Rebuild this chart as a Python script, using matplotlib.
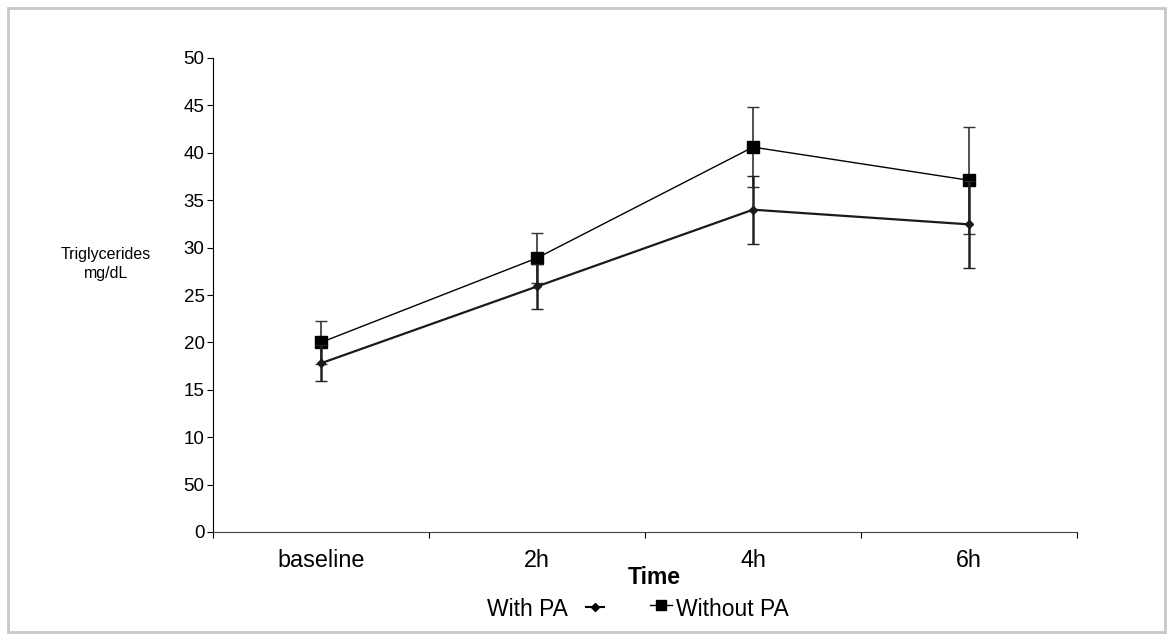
import numpy as np
import matplotlib

matplotlib.use('Agg')
import matplotlib.pyplot as plt
from matplotlib.lines import Line2D
from matplotlib.patches import Rectangle

plt.rcParams['font.family'] = ['Liberation Sans', 'DejaVu Sans']

# ================= data =================
categories = ['baseline', '2h', '4h', '6h']
with_pa = [17.8, 25.9, 34.0, 32.45]
with_pa_err = [1.9, 2.4, 3.6, 4.6]
without_pa = [20.0, 28.9, 40.6, 37.1]
without_pa_err = [2.3, 2.65, 4.2, 5.65]
y_ticks = [0, 5, 10, 15, 20, 25, 30, 35, 40, 45, 50]
y_tick_labels = ['0', '50', '10', '15', '20', '25', '30', '35', '40', '45', '50']
# =========================================

fig = plt.figure(figsize=(11.73, 6.4), dpi=100)
ax = fig.add_axes([213 / 1173, 1 - 532 / 640, 864 / 1173, 474 / 640])

x = np.arange(len(categories))

ax.errorbar(x, without_pa, yerr=without_pa_err, color='black', lw=1.0,
            marker='s', markersize=8, capsize=4, elinewidth=1.2, capthick=1.0,
            ecolor='#333333', label='Without PA', zorder=3)
ax.errorbar(x, with_pa, yerr=with_pa_err, color='#1a1a1a', lw=1.6,
            marker='D', markersize=4.5, capsize=4, elinewidth=1.8, capthick=1.0,
            ecolor='#222222', label='With PA', zorder=4)

ax.set_xlim(-0.5, len(categories) - 0.5)
ax.set_ylim(0, 50)
ax.set_yticks(y_ticks)
ax.set_yticklabels(y_tick_labels, fontsize=13.5)

# boundary ticks on the category axis, labels centred in between
ax.set_xticks(np.arange(len(categories) + 1) - 0.5)
ax.set_xticklabels([])
ax.set_xticks(x, minor=True)
ax.set_xticklabels(categories, minor=True, fontsize=16.8)
ax.tick_params(axis='x', which='minor', length=0, pad=12)
ax.tick_params(axis='x', which='major', length=4, direction='out')
ax.tick_params(axis='y', length=4, direction='out', pad=2)

for side in ['top', 'right']:
    ax.spines[side].set_visible(False)
ax.spines['left'].set_color('black')
ax.spines['bottom'].set_color('#444444')

fig.text(654 / 1173, 1 - 577 / 640, 'Time', fontsize=16.5, fontweight='bold',
         ha='center', va='center')
fig.text(106 / 1173, 1 - 264 / 640, 'Triglycerides\nmg/dL', fontsize=11.5,
         ha='center', va='center', linespacing=1.3)

# legend: odd Excel layout, label before marker for the first entry
ly = 1 - 610 / 640
fig.text(568 / 1173, ly, 'With PA', fontsize=16.5, ha='right', va='center')
fig.add_artist(Line2D([586 / 1173, 604 / 1173], [ly + 3 / 640, ly + 3 / 640],
                      color='black', lw=1.5, transform=fig.transFigure))
fig.add_artist(Line2D([595 / 1173], [ly + 3 / 640], color='black', marker='D',
                      markersize=4, transform=fig.transFigure))
fig.add_artist(Line2D([650 / 1173, 672 / 1173], [ly + 5 / 640, ly + 5 / 640],
                      color='black', lw=1.0, transform=fig.transFigure))
fig.add_artist(Line2D([661 / 1173], [ly + 5 / 640], color='black', marker='s',
                      markersize=7, transform=fig.transFigure))
fig.text(676 / 1173, ly, 'Without PA', fontsize=16.5, ha='left', va='center')

# light frame around the whole chart
fig.add_artist(Rectangle((8 / 1173, 8 / 640), 1157 / 1173, 624 / 640,
                         fill=False, edgecolor='#c8c8c8', lw=2,
                         transform=fig.transFigure))

fig.savefig('out.png', dpi=100, facecolor='white')
